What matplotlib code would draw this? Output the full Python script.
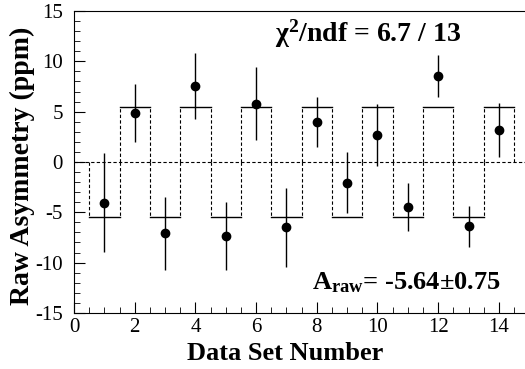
import matplotlib
matplotlib.use("Agg")
import matplotlib.pyplot as plt
import numpy as np
from matplotlib.ticker import MultipleLocator

plt.rcParams['font.family'] = ['Liberation Serif', 'DejaVu Serif']
plt.rcParams['mathtext.fontset'] = 'custom'
plt.rcParams['mathtext.rm'] = 'Liberation Serif'
plt.rcParams['mathtext.it'] = 'Liberation Serif:italic'
plt.rcParams['mathtext.bf'] = 'Liberation Serif:bold'
plt.rcParams['axes.unicode_minus'] = False

# data sets and measured raw asymmetries (ppm)
data_set = [1, 2, 3, 4, 5, 6, 7, 8, 9, 10, 11, 12, 13, 14]
asym = [-4.05, 4.9, -7.1, 7.55, -7.35, 5.8, -6.5, 4.0, -2.05, 2.7, -4.5, 8.55, -6.4, 3.2]
err = [4.9, 2.9, 3.6, 3.25, 3.4, 3.65, 3.95, 2.5, 3.05, 3.1, 2.4, 2.05, 2.05, 2.7]
fit_level = 5.5   # alternating sign fit

fig = plt.figure(figsize=(5.25, 3.69), dpi=100)
ax = fig.add_axes([0.141, 0.152, 0.867, 0.818])

ax.axhline(0, color='black', ls=(0, (3, 2)), lw=0.8)

for n in data_set:
    lvl = fit_level if n % 2 == 0 else -fit_level
    ax.plot([n - 0.5, n + 0.5], [lvl, lvl], color='black', lw=1.0)
    ax.plot([n - 0.5, n - 0.5], [0, lvl], color='black', ls=(0, (3, 2)), lw=0.8)
    ax.plot([n + 0.5, n + 0.5], [0, lvl], color='black', ls=(0, (3, 2)), lw=0.8)

ax.errorbar(data_set, asym, yerr=err, fmt='o', color='black', ms=6,
            elinewidth=1.0, capsize=0)

ax.set_xlim(0, 15)
ax.set_ylim(-15, 15)
ax.xaxis.set_major_locator(MultipleLocator(2))
ax.xaxis.set_minor_locator(MultipleLocator(0.5))
ax.yaxis.set_major_locator(MultipleLocator(5))
ax.yaxis.set_minor_locator(MultipleLocator(1))
ax.tick_params(which='both', direction='in', top=False, right=False, labelsize=15)
ax.tick_params(which='major', length=8)
ax.tick_params(which='minor', length=4)
ax.tick_params(axis='x', pad=4)
ax.tick_params(axis='y', pad=8)

ax.set_xlabel('Data Set Number', fontsize=19, fontweight='bold')
ax.xaxis.set_label_coords(0.464, -0.095)
ax.set_ylabel('Raw Asymmetry (ppm)', fontsize=20, fontweight='bold')
ax.yaxis.set_label_coords(-0.086, 0.487)

ax.text(0.442, 0.925, r'$\mathbf{\chi^{2}}$/ndf = 6.7 / 13', transform=ax.transAxes,
        fontsize=20, fontweight='bold', va='center')
ax.text(0.523, 0.10, r'$\mathbf{A_{raw}}$= -5.64$\mathbf{\pm}$0.75', transform=ax.transAxes,
        fontsize=19, fontweight='bold', va='center')

fig.savefig('out.png', dpi=100)
